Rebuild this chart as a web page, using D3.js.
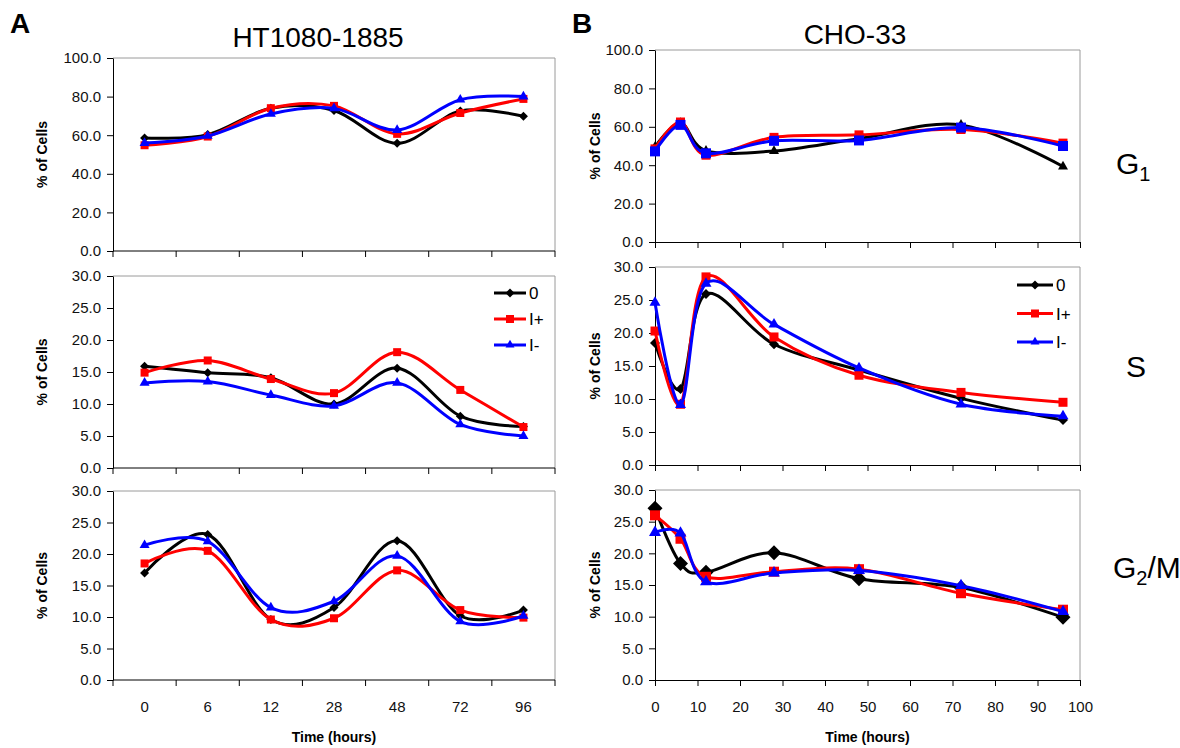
<!DOCTYPE html>
<html>
<head>
<meta charset="utf-8">
<script src="https://cdn.jsdelivr.net/npm/d3@7"></script>
<style>
  body { margin: 0; background: #fff; }
  svg { display: block; font-family: Arial, "Liberation Sans", sans-serif; }
</style>
</head>
<body>
<svg id="chart" width="1180" height="748"></svg>
<script>
// time points (hours)
const timeLabels = ["0", "6", "12", "28", "48", "72", "96"];
const hours = [0, 6, 12, 28, 48, 72, 96];
const seriesNames = ["0", "I+", "I-"];
const seriesColors = ["#000000", "#ff0000", "#0000ff"];

// HT1080-1885
const htG1Ctrl = [58.5, 60.3, 74.0, 72.8, 55.8, 72.5, 69.8];
const htG1Plus = [54.8, 59.3, 74.0, 75.2, 60.7, 71.5, 78.8];
const htG1Minus = [55.9, 59.6, 71.0, 73.9, 62.7, 78.4, 80.0];
const htSCtrl = [15.9, 14.9, 14.1, 10.0, 15.6, 8.1, 6.5];
const htSPlus = [14.9, 16.8, 13.9, 11.7, 18.1, 12.2, 6.4];
const htSMinus = [13.3, 13.5, 11.4, 9.7, 13.3, 6.8, 5.0];
const htG2Ctrl = [17.0, 23.1, 9.6, 11.5, 22.1, 10.2, 11.1];
const htG2Plus = [18.5, 20.5, 9.6, 9.8, 17.4, 11.1, 9.9];
const htG2Minus = [21.4, 22.0, 11.5, 12.5, 19.7, 9.3, 10.2];

// CHO-33
const choG1Ctrl = [49.5, 62.0, 47.5, 47.4, 53.8, 61.0, 39.3];
const choG1Plus = [48.5, 62.5, 45.2, 54.5, 55.8, 58.6, 51.5];
const choG1Minus = [47.2, 61.0, 46.2, 52.7, 52.9, 59.6, 50.0];
const choSCtrl = [18.5, 11.5, 25.9, 18.3, 14.4, 10.1, 6.8];
const choSPlus = [20.3, 9.2, 28.5, 19.4, 13.6, 11.0, 9.5];
const choSMinus = [24.6, 9.1, 27.5, 21.3, 14.7, 9.2, 7.4];
const choG2Ctrl = [27.1, 18.4, 17.0, 20.1, 16.0, 14.6, 9.9];
const choG2Plus = [26.0, 22.3, 16.3, 17.1, 17.5, 13.7, 11.1];
const choG2Minus = [23.3, 23.2, 15.5, 16.9, 17.3, 14.9, 10.8];

const svg = d3.select("#chart");

function markerPath(shape, px) {
  if (shape === "square") return d3.symbol().type(d3.symbolSquare).size(px * px)();
  if (shape === "diamond") return d3.symbol().type(d3.symbolSquare).size(px * px / 2)();
  return d3.symbol().type(d3.symbolTriangle).size(px * px * Math.sqrt(3) / 4)();
}

function drawPanel(p) {
  var g = svg.append("g");
  var y = d3.scaleLinear().domain([0, p.yMax]).range([p.y1, p.y0]);
  var x, xPos;
  if (p.categorical) {
    x = d3.scaleBand().domain(timeLabels).range([p.x0, p.x1]);
    xPos = function(i) { return x(timeLabels[i]) + x.bandwidth() / 2; };
  } else {
    x = d3.scaleLinear().domain([0, 100]).range([p.x0, p.x1]);
    xPos = function(i) { return x(hours[i]); };
  }

  // top / right frame in grey
  g.append("path")
    .attr("d", `M${p.x0},${p.y0}H${p.x1}V${p.y1}`)
    .attr("fill", "none")
    .attr("stroke", "#9a9a9a")
    .attr("stroke-width", 1);

  // y axis
  var yAxis = g.append("g")
    .attr("transform", `translate(${p.x0},0)`)
    .call(d3.axisLeft(y).tickValues(d3.range(0, p.yMax + 0.01, p.yStep))
      .tickFormat(d3.format(".1f")).tickSize(6).tickSizeOuter(0).tickPadding(6));
  yAxis.selectAll("text").attr("font-size", 15).attr("fill", "#111");

  // x axis
  var xg = g.append("g").attr("transform", `translate(0,${p.y1})`);
  if (p.categorical) {
    xg.append("line").attr("x1", p.x0).attr("x2", p.x1).attr("stroke", "#000");
    xg.selectAll(".bt")
      .data(d3.range(timeLabels.length + 1))
      .enter()
      .append("line")
      .attr("x1", function(i) { return p.x0 + i * x.step(); })
      .attr("x2", function(i) { return p.x0 + i * x.step(); })
      .attr("y2", 6)
      .attr("stroke", "#000");
    if (p.showX) {
      xg.selectAll(".lbl")
        .data(timeLabels)
        .enter()
        .append("text")
        .attr("x", function(d) { return x(d) + x.bandwidth() / 2; })
        .attr("y", 32)
        .attr("text-anchor", "middle")
        .attr("font-size", 15)
        .attr("fill", "#111")
        .text(function(d) { return d; });
    }
  } else {
    var xa = xg.call(d3.axisBottom(x).tickValues(d3.range(0, 101, 10))
      .tickSize(6).tickSizeOuter(0).tickPadding(15));
    xa.selectAll("text").attr("font-size", 15).attr("fill", "#111");
    if (!p.showX) xa.selectAll("text").remove();
  }
  g.selectAll(".domain").attr("stroke", "#000");

  if (p.showX) {
    g.append("text")
      .attr("x", (p.x0 + p.x1) / 2)
      .attr("y", 742)
      .attr("text-anchor", "middle")
      .attr("font-size", 14)
      .attr("font-weight", "bold")
      .text("Time (hours)");
  }

  // y label
  g.append("text")
    .attr("transform", `translate(${p.yLabelX},${(p.y0 + p.y1) / 2}) rotate(-90)`)
    .attr("text-anchor", "middle")
    .attr("font-size", 14)
    .attr("font-weight", "bold")
    .text("% of Cells");

  // legend
  if (p.legend) {
    var lg = g.append("g");
    lg.append("rect")
      .attr("x", p.legend.x - 6).attr("y", p.y0 + 1)
      .attr("width", p.x1 - p.legend.x + 5).attr("height", p.legend.h)
      .attr("fill", "#fff");
    seriesNames.forEach(function(name, i) {
      var ly = p.legend.y + i * p.legend.dy;
      lg.append("line")
        .attr("x1", p.legend.x).attr("x2", p.legend.x + p.legend.len)
        .attr("y1", ly).attr("y2", ly)
        .attr("stroke", seriesColors[i]).attr("stroke-width", 3);
      lg.append("path")
        .attr("d", markerPath(["diamond", "square", "triangle"][i], [9, 8, 9][i]))
        .attr("transform", `translate(${p.legend.x + p.legend.len / 2},${ly})` + (i === 0 ? " rotate(45)" : ""))
        .attr("fill", seriesColors[i]);
      lg.append("text")
        .attr("x", p.legend.x + p.legend.len + 3).attr("y", ly + 6)
        .attr("font-size", 17)
        .text(name);
    });
  }

  var line = d3.line()
    .x(function(d, i) { return xPos(i); })
    .y(function(d) { return y(d); })
    .curve(d3.curveCardinal.tension(0));

  p.series.forEach(function(vals, si) {
    g.append("path")
      .datum(vals)
      .attr("d", line)
      .attr("fill", "none")
      .attr("stroke", seriesColors[si])
      .attr("stroke-width", 3)
      .attr("stroke-linejoin", "round");
    var m = p.markers[si];
    g.selectAll(null)
      .data(vals)
      .enter()
      .append("path")
      .attr("d", markerPath(m[0], m[1]))
      .attr("transform", function(d, i) {
        return `translate(${xPos(i)},${y(d)})` + (m[0] === "diamond" ? " rotate(45)" : "");
      })
      .attr("fill", seriesColors[si]);
  });
}

var leftMarkers = [["diamond", 9], ["square", 8], ["triangle", 10]];

drawPanel({ x0: 113, x1: 555, y0: 58, y1: 251, yMax: 100, yStep: 20, categorical: true,
  yLabelX: 47, series: [htG1Ctrl, htG1Plus, htG1Minus], markers: leftMarkers });
drawPanel({ x0: 113, x1: 555, y0: 276, y1: 468, yMax: 30, yStep: 5, categorical: true,
  yLabelX: 47, series: [htSCtrl, htSPlus, htSMinus], markers: leftMarkers,
  legend: { x: 494, y: 293, dy: 26, len: 32, h: 80 } });
drawPanel({ x0: 113, x1: 555, y0: 491, y1: 680, yMax: 30, yStep: 5, categorical: true, showX: true,
  yLabelX: 47, series: [htG2Ctrl, htG2Plus, htG2Minus], markers: leftMarkers });

drawPanel({ x0: 655, x1: 1080, y0: 50, y1: 242, yMax: 100, yStep: 20,
  yLabelX: 600, series: [choG1Ctrl, choG1Plus, choG1Minus],
  markers: [["triangle", 10], ["square", 9], ["square", 10]] });
drawPanel({ x0: 655, x1: 1080, y0: 267, y1: 465, yMax: 30, yStep: 5,
  yLabelX: 600, series: [choSCtrl, choSPlus, choSMinus],
  markers: [["diamond", 10], ["square", 9], ["triangle", 11]],
  legend: { x: 1017, y: 285, dy: 28.5, len: 36, h: 82 } });
drawPanel({ x0: 655, x1: 1080, y0: 490, y1: 680, yMax: 30, yStep: 5, showX: true,
  yLabelX: 600, series: [choG2Ctrl, choG2Plus, choG2Minus],
  markers: [["diamond", 15], ["square", 10], ["triangle", 12]] });

// panel letters and titles
svg.append("text").attr("x", 10).attr("y", 33).attr("font-size", 28).attr("font-weight", "bold").text("A");
svg.append("text").attr("x", 572).attr("y", 33).attr("font-size", 28).attr("font-weight", "bold").text("B");
svg.append("text").attr("x", 318).attr("y", 47).attr("text-anchor", "middle").attr("font-size", 28).text("HT1080-1885");
svg.append("text").attr("x", 855).attr("y", 44).attr("text-anchor", "middle").attr("font-size", 28).text("CHO-33");

// phase labels
function phaseLabel(x, y, main, sub, rest) {
  var t = svg.append("text").attr("x", x).attr("y", y).attr("font-size", 30);
  t.append("tspan").text(main);
  t.append("tspan").attr("font-size", 20).attr("dy", 7).text(sub);
  if (rest) t.append("tspan").attr("dy", -7).text(rest);
}
phaseLabel(1116, 174, "G", "1");
svg.append("text").attr("x", 1126).attr("y", 377).attr("font-size", 30).text("S");
phaseLabel(1113, 578, "G", "2", "/M");
</script>
</body>
</html>
